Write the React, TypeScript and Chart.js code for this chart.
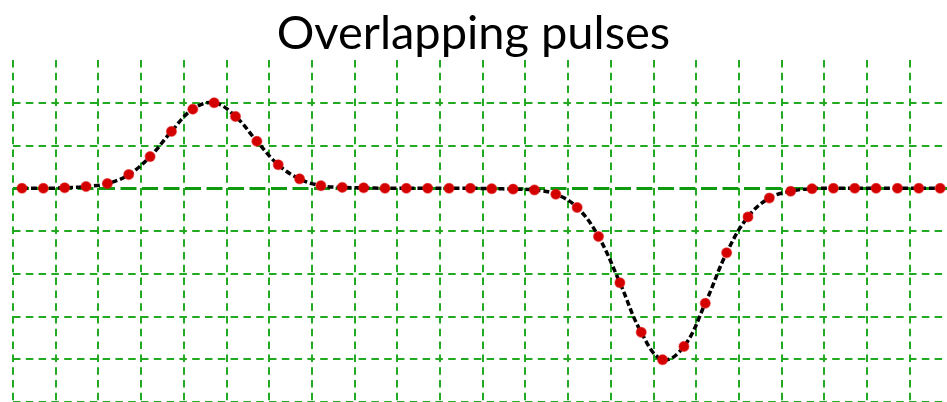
import React, { useEffect, useRef } from "react";
import { Chart, registerables } from "chart.js";

Chart.register(...registerables);

const chartTitle = "Overlapping pulses";

// sample positions (index of each sample)
const sampleX = [
  0, 1, 2, 3, 4, 5, 6, 7, 8, 9, 10, 11, 12, 13, 14, 15, 16, 17, 18, 19, 20, 21,
  22, 23, 24, 25, 26, 27, 28, 29, 30, 31, 32, 33, 34, 35, 36, 37, 38, 39, 40, 41,
  42, 43,
];

// signal values
const signalY = [
  0, 0, 0.01, 0.04, 0.11, 0.32, 0.74, 1.33, 1.85, 2.0, 1.68, 1.1, 0.55, 0.22,
  0.06, 0.02, 0.01, 0, 0, 0, 0, 0, -0.01, -0.02, -0.04, -0.14, -0.45, -1.13,
  -2.21, -3.37, -4.01, -3.7, -2.69, -1.51, -0.67, -0.23, -0.07, -0.01, 0, 0, 0,
  0, 0, 0,
];

// vertical grid positions (in sample units)
const xGridTicks = [
  -0.42, 1.58, 3.58, 5.58, 7.58, 9.58, 11.58, 13.58, 15.58, 17.58, 19.58, 21.58,
  23.58, 25.58, 27.58, 29.58, 31.58, 33.58, 35.58, 37.58, 39.58, 41.58,
];

// horizontal grid positions
const yGridTicks = [-5, -4, -3, -2, -1, 0, 1, 2];

export default function App() {
  const canvasRef = useRef<HTMLCanvasElement | null>(null);

  useEffect(() => {
    document.body.style.margin = "0";
    const canvas = canvasRef.current;
    if (!canvas) return;

    const points = sampleX.map((x, i) => ({ x, y: signalY[i] }));

    const chart = new Chart(canvas, {
      type: "line",
      data: {
        datasets: [
          {
            data: points,
            borderColor: "#000000",
            borderWidth: 3.5,
            borderDash: [6, 3],
            tension: 0.4,
            pointRadius: 5,
            pointBackgroundColor: "#d40000",
            pointBorderColor: "rgba(225,30,30,0.5)",
            pointBorderWidth: 1.2,
            fill: false,
          },
        ],
      },
      options: {
        animation: false,
        responsive: false,
        maintainAspectRatio: false,
        events: [],
        layout: { autoPadding: false, padding: { left: 0, right: 0, top: 0, bottom: 0 } },
        plugins: {
          legend: { display: false },
          tooltip: { enabled: false },
          title: {
            display: true,
            text: chartTitle,
            color: "#000000",
            font: { family: "Lato", size: 47, weight: "normal", lineHeight: 1.1 },
            padding: { top: 7.5, bottom: 0.8 },
          },
        },
        scales: {
          x: {
            type: "linear",
            min: -0.42,
            max: 43.32,
            afterBuildTicks: (scale: any) => {
              scale.ticks = xGridTicks.map((v) => ({ value: v }));
            },
            ticks: { display: false },
            grid: { color: "#22aa22", lineWidth: 2, drawTicks: false },
            border: { display: false, dash: [7.5, 5.3] },
          },
          y: {
            type: "linear",
            min: -5,
            max: 3,
            afterBuildTicks: (scale: any) => {
              scale.ticks = yGridTicks.map((v) => ({ value: v }));
            },
            afterFit: (scale: any) => {
              scale.width = 13;
            },
            ticks: { display: false },
            grid: {
              color: (ctx: any) =>
                ctx.tick && ctx.tick.value === 0 ? "#0e9a0e" : "#22aa22",
              lineWidth: (ctx: any) =>
                ctx.tick && ctx.tick.value === 0 ? 3 : 2,
              drawTicks: false,
            },
            border: {
              display: false,
              dash: (ctx: any) =>
                ctx.tick && ctx.tick.value === 0 ? [16, 5.5] : [7.5, 5.3],
            },
          },
        },
      },
    });

    return () => {
      chart.destroy();
    };
  }, []);

  return (
    <div style={{ width: 947, height: 402 }}>
      <canvas
        ref={canvasRef}
        width={947}
        height={402}
        style={{ display: "block", width: 947, height: 402 }}
      />
    </div>
  );
}
